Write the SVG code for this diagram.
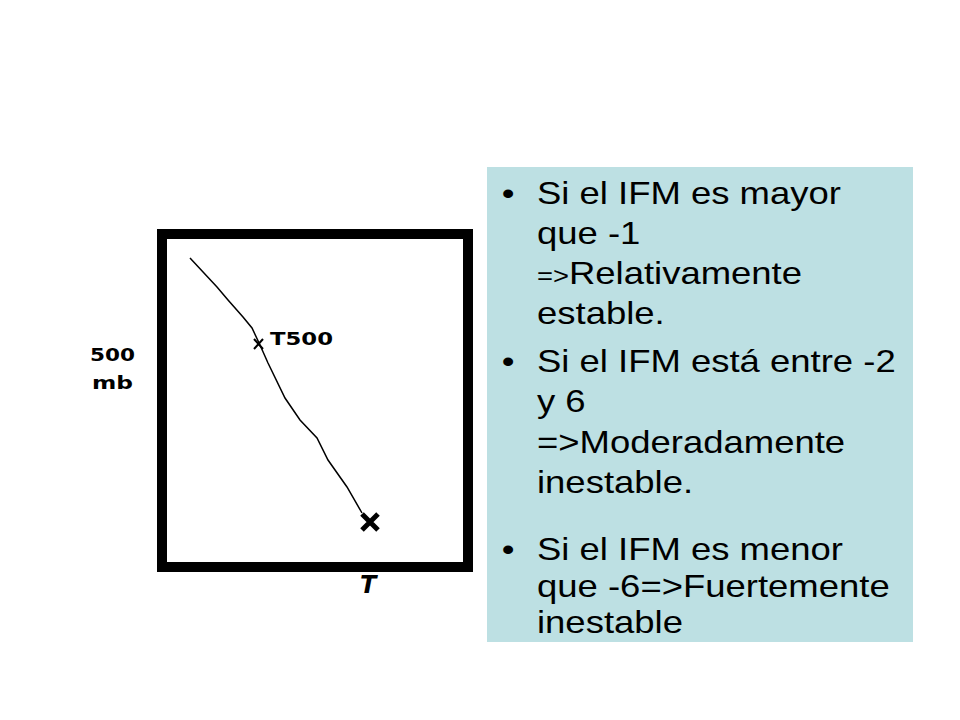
<svg xmlns="http://www.w3.org/2000/svg" width="960" height="720" viewBox="0 0 960 720">
<style>
.t{font-family:"Liberation Sans",Arial,sans-serif;font-size:32px;fill:#000}
.b{font-family:"DejaVu Sans","Liberation Sans",sans-serif;font-weight:bold;fill:#000}
</style>
<rect width="960" height="720" fill="#fff"/>
<g id="chart">
<rect x="162" y="234" width="306" height="333" fill="#fff" stroke="#000" stroke-width="10"/>
<polyline points="190,258 217,287 228,300 243,317 252,328 260,345 268,363 285,398 300,420 317,438 328,460 347,487 362,513" fill="none" stroke="#000" stroke-width="1.5"/>
<path d="M254,339 L263,349 M263,339 L254,349" stroke="#000" stroke-width="2"/>
<text class="b" x="270" y="345" font-size="17" textLength="63" lengthAdjust="spacingAndGlyphs">T500</text>
<path d="M362,514 L378,530 M378,514 L362,530" stroke="#000" stroke-width="5"/>
<text class="b" x="360" y="593" font-size="24" font-style="italic">T</text>
<text class="b" x="90" y="361" font-size="17" textLength="45" lengthAdjust="spacingAndGlyphs">500</text>
<text class="b" x="92" y="389" font-size="17" textLength="41" lengthAdjust="spacingAndGlyphs">mb</text>
</g>
<g id="panel">
<rect x="487" y="167" width="426" height="475" fill="#bde0e3"/>
<g transform="translate(537,0) scale(1.14,1) translate(-537,0)">
<text class="t" x="506" y="204">•</text>
<text class="t" x="537" y="204">Si el IFM es mayor</text>
<text class="t" x="537" y="244">que -1</text>
<text class="t" x="537" y="284"><tspan font-size="24">=&gt;</tspan>Relativamente</text>
<text class="t" x="537" y="324">estable.</text>
<text class="t" x="506" y="372">•</text>
<text class="t" x="537" y="372">Si el IFM está entre -2</text>
<text class="t" x="537" y="412">y 6</text>
<text class="t" x="537" y="453">=&gt;Moderadamente</text>
<text class="t" x="537" y="493">inestable.</text>
<text class="t" x="506" y="560">•</text>
<text class="t" x="537" y="560">Si el IFM es menor</text>
<text class="t" x="537" y="597">que -6=&gt;Fuertemente</text>
<text class="t" x="537" y="633">inestable</text>
</g>
</g>
</svg>
